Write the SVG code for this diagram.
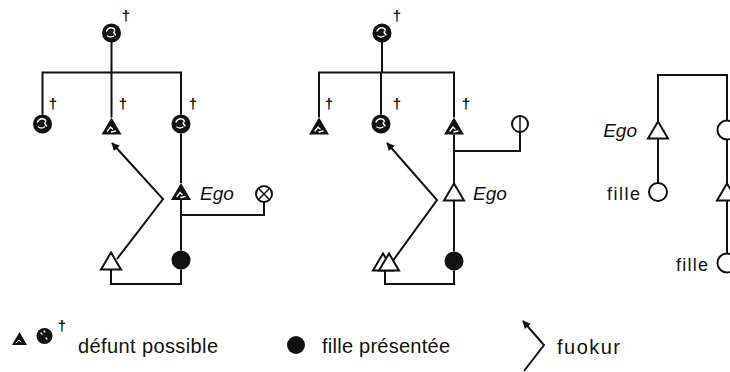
<svg xmlns="http://www.w3.org/2000/svg" xmlns:xlink="http://www.w3.org/1999/xlink" width="730" height="372" viewBox="0 0 730 372">
<style>
.ln{fill:none;stroke:#111;stroke-width:2}
.op{fill:#fff;stroke:#111;stroke-width:2}
.bk{fill:#111}
.wm{fill:none;stroke:#fff;stroke-width:1.4;stroke-linecap:round}
.dg{font-family:"Liberation Sans",Arial,sans-serif;font-size:15px;font-weight:bold;fill:#111;text-anchor:middle}
.ego{font-family:"Liberation Sans",Arial,sans-serif;font-size:19px;font-style:italic;fill:#111}
.fl{font-family:"Liberation Sans",Arial,sans-serif;font-size:18px;fill:#111}
.lg{font-family:"Liberation Sans",Arial,sans-serif;font-size:20px;fill:#111}
</style>
<defs>
<marker id="ah" viewBox="0 0 10 10" refX="9" refY="5" markerWidth="10" markerHeight="8" markerUnits="userSpaceOnUse" orient="auto">
<path d="M0,0 L10,5 L0,10 Z" fill="#111"/>
</marker>
<g id="dC">
<circle r="9.5" class="bk"/>
<path class="wm" d="M-5,-2 q2,-4 6,-3 q3,1 2,3 M-4,3 q3,2 6,0 M2,-1 l2,3"/>
</g>
<g id="dT">
<path class="bk" d="M-10,8.5 L0,-8.5 L10,8.5 Z"/>
<path class="wm" d="M-4,5 l3,-4 l2,2 M0,6 l4,-1"/>
</g>
<path id="oT" class="op" d="M-10,8.5 L0,-8.5 L10,8.5 Z"/>
</defs>

<g id="connectors">
<!-- diagram 1 -->
<path class="ln" d="M111.5,42 V72.5 M42.5,114.5 V72.5 H181 V114.5 M111.5,72.5 V117.5"/>
<path class="ln" d="M181,133.5 V183"/>
<path class="ln" d="M181,200 V250.5"/>
<path class="ln" d="M181,215 H264 V202"/>
<path class="ln" d="M111,270 V284 H181 V269.5"/>
<polyline class="ln" points="117,259 163,199 112,143" marker-end="url(#ah)"/>
<!-- diagram 2 -->
<path class="ln" d="M382,42 V72.5 M319,117.5 V72.5 H454 V117.5 M381,72.5 V114.5"/>
<path class="ln" d="M454,134.5 V183.5"/>
<path class="ln" d="M454,151 H520 V132"/>
<path class="ln" d="M454,200.5 V251.5"/>
<path class="ln" d="M385,271 V284 H454 V270.5"/>
<polyline class="ln" points="392,262 437,200 387,143" marker-end="url(#ah)"/>
<!-- diagram 3 -->
<path class="ln" d="M658,121.5 V75 H727 V120.5"/>
<path class="ln" d="M658,138.5 V183"/>
<path class="ln" d="M727,139.5 V183.5"/>
<path class="ln" d="M727,200.5 V253.5"/>
</g>

<!-- diagram 1 nodes -->
<g id="d1-top"><use xlink:href="#dC" x="111.5" y="33"/><text class="dg" x="126" y="21">†</text></g>
<g id="d1-c1"><use xlink:href="#dC" x="42.5" y="124"/><text class="dg" x="53" y="109">†</text></g>
<g id="d1-c2"><use xlink:href="#dT" x="111.5" y="126"/><text class="dg" x="123" y="109">†</text></g>
<g id="d1-c3"><use xlink:href="#dC" x="181" y="124"/><text class="dg" x="193" y="109">†</text></g>
<g id="d1-ego"><use xlink:href="#dT" x="181" y="191.5"/><text class="ego" x="200" y="200">Ego</text></g>
<g id="d1-x"><circle class="op" cx="264" cy="194" r="8"/><path class="ln" d="M258.3,188.3 L269.7,199.7 M269.7,188.3 L258.3,199.7" style="stroke-width:1.5"/></g>
<g id="d1-fille"><circle class="bk" cx="181" cy="260" r="9.5"/></g>
<g id="d1-son"><use xlink:href="#oT" x="111" y="261"/></g>

<!-- diagram 2 nodes -->
<g id="d2-top"><use xlink:href="#dC" x="382" y="33"/><text class="dg" x="397" y="21">†</text></g>
<g id="d2-c1"><use xlink:href="#dT" x="319" y="126"/><text class="dg" x="329" y="109">†</text></g>
<g id="d2-c2"><use xlink:href="#dC" x="381" y="124"/><text class="dg" x="397" y="109">†</text></g>
<g id="d2-c3"><use xlink:href="#dT" x="454" y="126"/><text class="dg" x="466" y="109">†</text></g>
<g id="d2-w"><circle class="op" cx="520" cy="124" r="8"/><path class="ln" d="M520,116 V132" style="stroke-width:1.5"/></g>
<g id="d2-ego"><use xlink:href="#oT" x="454" y="192"/><text class="ego" x="473" y="200">Ego</text></g>
<g id="d2-fille"><circle class="bk" cx="454" cy="261" r="9.5"/></g>
<g id="d2-son"><use xlink:href="#oT" x="383" y="262"/><use xlink:href="#oT" x="389" y="262"/></g>

<!-- diagram 3 nodes -->
<g id="d3-ego"><use xlink:href="#oT" x="658" y="130"/><text class="ego" x="637" y="137" text-anchor="end">Ego</text></g>
<g id="d3-fille1"><circle class="op" cx="658" cy="192" r="9"/><text class="fl" x="640" y="200" text-anchor="end" textLength="33">fille</text></g>
<g id="d3-sis"><circle class="op" cx="727" cy="130" r="9.5"/></g>
<g id="d3-nep"><use xlink:href="#oT" x="727" y="192"/></g>
<g id="d3-fille2"><circle class="op" cx="727" cy="263" r="9.5"/><text class="fl" x="708" y="271" text-anchor="end" textLength="32">fille</text></g>

<!-- legend -->
<g id="legend-defunt">
<path class="bk" d="M12,345 L19.5,332 L27,345 Z"/>
<path class="wm" d="M16,343 l3,-3 l2,2" style="stroke-width:1"/>
<circle class="bk" cx="44.5" cy="336" r="8"/>
<path class="wm" d="M41,333 l1,1 M46,338 l1,1 M44,331 l1,1" style="stroke-width:1.2"/>
<text class="dg" x="62" y="331">†</text>
<text class="lg" x="78" y="353" textLength="140">défunt possible</text>
</g>
<g id="legend-fille">
<circle class="bk" cx="296" cy="345" r="9"/>
<text class="lg" x="322" y="353" textLength="128">fille présentée</text>
</g>
<g id="legend-fuokur">
<polyline class="ln" points="524,371 544,345 523,321" marker-end="url(#ah)"/>
<text class="lg" x="557" y="354" textLength="63">fuokur</text>
</g>
</svg>
